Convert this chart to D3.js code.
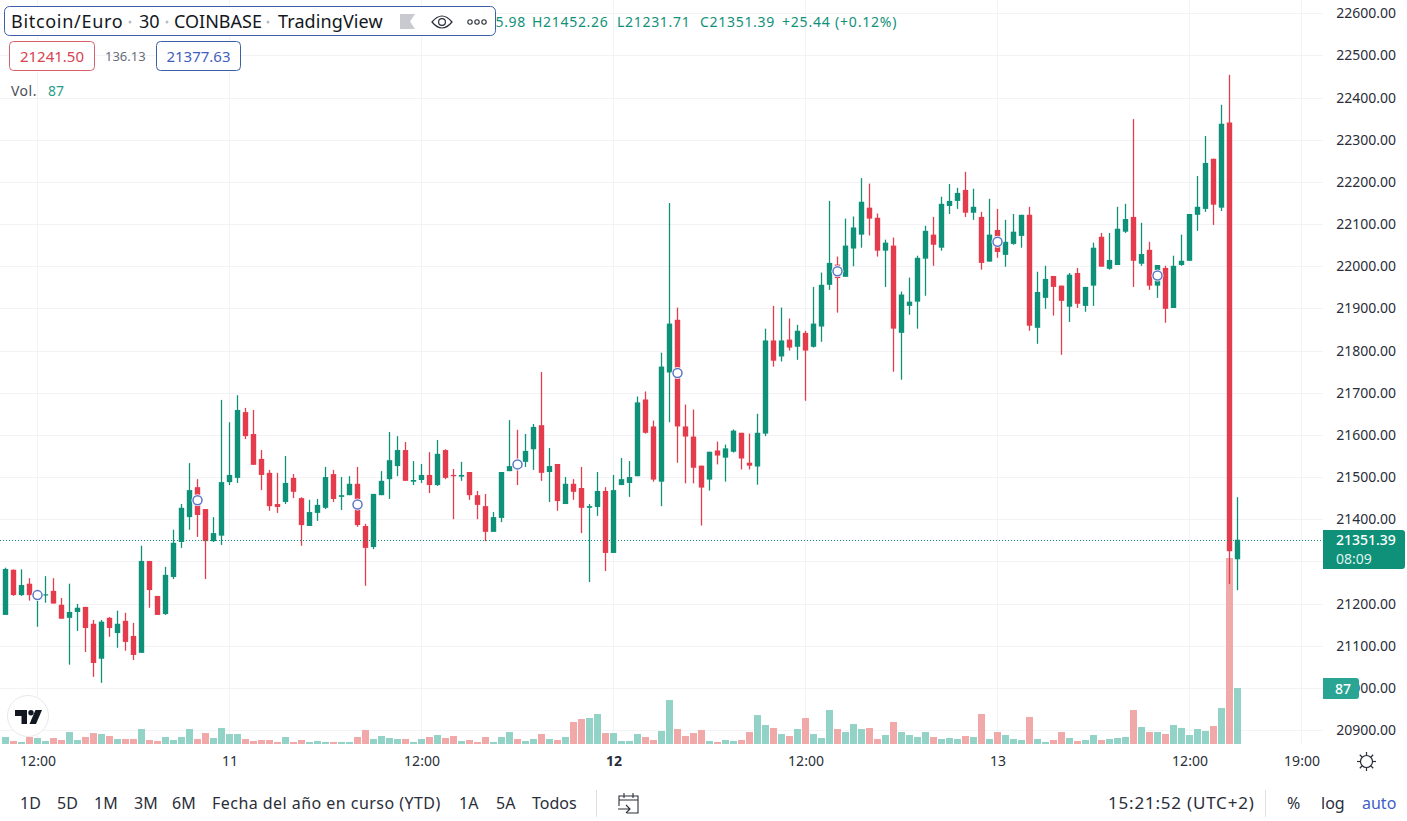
<!DOCTYPE html>
<html>
<head>
<meta charset="utf-8">
<title>Bitcoin/Euro</title>
<script src="https://cdnjs.cloudflare.com/ajax/libs/d3/7.8.5/d3.min.js"></script>
<style>
    html, body { margin: 0; padding: 0; background: #fff; overflow: hidden; }
    svg { display: block; font-family: "Noto Sans", sans-serif; }
</style>
</head>
<body>
<svg id="chart" width="1407" height="821"></svg>
<script>
// 30 minute candles
const opens = [
    21173, 21280, 21220, 21247, 21216, 21219, 21230, 21197, 21166, 21180,
    21192, 21152, 21069, 21166, 21130, 21159, 21123, 21083, 21301, 21218,
    21175, 21263, 21346, 21405, 21476, 21424, 21348, 21361, 21488, 21498,
    21654, 21602, 21543, 21510, 21436, 21441, 21498, 21450, 21384, 21415,
    21427, 21507, 21453, 21457, 21484, 21384, 21334, 21457, 21495, 21526,
    21564, 21489, 21493, 21505, 21481, 21564, 21505, 21501, 21512, 21457,
    21431, 21370, 21403, 21514, 21532, 21536, 21566, 21623, 21512, 21531,
    21436, 21484, 21474, 21427, 21429, 21467, 21320, 21481, 21486, 21502,
    21684, 21620, 21489, 21748, 21873, 21620, 21596, 21527, 21494, 21563,
    21546, 21560, 21605, 21534, 21525, 21603, 21824, 21786, 21826, 21809,
    21842, 21809, 21857, 21956, 22004, 21975, 22042, 22075, 22139, 22115,
    22037, 22049, 21842, 21906, 21916, 22018, 22075, 22044, 22143, 22155,
    22181, 22127, 22117, 22011, 22086, 22027, 22053, 22072, 22122, 21854,
    21925, 21977, 21954, 21904, 21984, 21906, 21954, 22070, 21994, 22003,
    22082, 22117, 22006, 22039, 21954, 21996, 21901, 22003, 22013, 22122,
    22136, 22255, 22139, 22341, 21305
];
const closes = [
    21282, 21220, 21244, 21220, 21224, 21222, 21200, 21164, 21180, 21190,
    21142, 21059, 21157, 21142, 21152, 21109, 21078, 21301, 21232, 21173,
    21268, 21344, 21427, 21469, 21410, 21348, 21367, 21488, 21505, 21659,
    21597, 21529, 21505, 21431, 21429, 21486, 21465, 21386, 21417, 21434,
    21500, 21448, 21457, 21484, 21386, 21332, 21460, 21491, 21540, 21564,
    21491, 21493, 21505, 21481, 21555, 21498, 21502, 21505, 21457, 21434,
    21370, 21405, 21512, 21526, 21526, 21562, 21619, 21510, 21526, 21443,
    21484, 21465, 21427, 21431, 21467, 21320, 21469, 21495, 21500, 21677,
    21605, 21494, 21762, 21864, 21620, 21596, 21522, 21475, 21560, 21551,
    21568, 21610, 21544, 21527, 21605, 21824, 21776, 21824, 21807, 21847,
    21800, 21864, 21956, 22008, 21972, 22049, 22092, 22153, 22113, 22037,
    22056, 21852, 21933, 21916, 22020, 22084, 22051, 22148, 22155, 22174,
    22127, 22141, 22008, 22075, 22034, 22058, 22082, 22122, 21859, 21939,
    21970, 21951, 21918, 21980, 21911, 21951, 22044, 21999, 22015, 22089,
    22112, 22013, 22029, 21954, 22003, 21899, 22001, 22013, 22124, 22141,
    22245, 22146, 22338, 21324, 21351.39
];
const highs = [
    21285, 21281, 21281, 21260, 21234, 21265, 21260, 21213, 21247, 21199,
    21192, 21161, 21161, 21168, 21183, 21178, 21154, 21337, 21301, 21218,
    21287, 21375, 21436, 21533, 21495, 21424, 21405, 21683, 21630, 21694,
    21664, 21659, 21564, 21517, 21510, 21550, 21507, 21452, 21446, 21448,
    21524, 21517, 21500, 21502, 21524, 21389, 21460, 21514, 21607, 21597,
    21583, 21538, 21531, 21559, 21588, 21566, 21519, 21536, 21512, 21467,
    21460, 21417, 21512, 21635, 21612, 21602, 21626, 21749, 21569, 21531,
    21500, 21495, 21524, 21436, 21512, 21476, 21505, 21545, 21538, 21691,
    21703, 21634, 21795, 22150, 21902, 21672, 21660, 21527, 21560, 21584,
    21577, 21613, 21605, 21603, 21650, 21852, 21906, 21902, 21876, 21861,
    21847, 21951, 21985, 22155, 22023, 22113, 22118, 22209, 22196, 22125,
    22063, 22068, 21940, 21973, 22025, 22096, 22117, 22165, 22195, 22186,
    22224, 22184, 22129, 22160, 22136, 22110, 22124, 22122, 22141, 21987,
    22001, 21977, 21954, 21984, 21996, 21951, 22056, 22079, 22079, 22141,
    22148, 22349, 22103, 22058, 22003, 22001, 22025, 22075, 22124, 22214,
    22309, 22255, 22383, 22454, 21452.26
];
const lows = [
    21173, 21218, 21218, 21207, 21145, 21202, 21200, 21164, 21055, 21135,
    21085, 21026, 21012, 21121, 21095, 21088, 21066, 21083, 21190, 21173,
    21173, 21258, 21332, 21375, 21358, 21258, 21346, 21339, 21481, 21486,
    21590, 21529, 21469, 21420, 21415, 21436, 21450, 21337, 21384, 21396,
    21424, 21441, 21422, 21457, 21382, 21242, 21329, 21457, 21448, 21502,
    21491, 21481, 21486, 21462, 21479, 21495, 21400, 21491, 21446, 21400,
    21348, 21370, 21393, 21514, 21481, 21524, 21517, 21491, 21441, 21420,
    21436, 21446, 21367, 21251, 21408, 21277, 21320, 21481, 21453, 21502,
    21603, 21489, 21431, 21630, 21534, 21485, 21485, 21385, 21468, 21530,
    21489, 21558, 21518, 21518, 21482, 21597, 21762, 21774, 21800, 21778,
    21681, 21807, 21821, 21944, 21890, 21975, 22000, 22044, 22073, 22023,
    21951, 21750, 21731, 21885, 21852, 21930, 22001, 22037, 22124, 22136,
    22117, 22110, 21992, 22011, 22020, 21999, 22051, 22044, 21847, 21816,
    21899, 21883, 21790, 21868, 21901, 21892, 21906, 21999, 21992, 22003,
    22079, 21951, 22001, 21944, 21925, 21866, 21901, 22001, 22013, 22084,
    22129, 22098, 22131, 21246, 21231.71
];
const volumes = [
    10.9, 4.7, 3.1, 10.9, 9.3, 4.7, 9.3, 6.2, 18.6, 6.2,
    10.9, 17, 15.5, 12.4, 7.8, 7.8, 7.8, 23.3, 6.2, 4.7,
    10.9, 6.2, 10.9, 23.3, 7.8, 17, 9.3, 24.9, 15.5, 15.5,
    7.8, 4.7, 6.2, 6.2, 3.1, 10.9, 3.1, 6.2, 3.1, 4.7,
    3.1, 3.1, 3.1, 3.1, 10.9, 21.8, 7.8, 12.4, 9.3, 7.8,
    7.8, 3.1, 7.8, 10.9, 14, 9.3, 12.4, 4.7, 6.2, 3.1,
    10.9, 3.1, 10.9, 18.6, 7.8, 4.7, 7.8, 15.5, 7.8, 6.2,
    10.9, 34.2, 38.8, 40.4, 46.6, 17, 17, 4.7, 4.7, 15.5,
    10.9, 6.2, 20.2, 68.3, 23.3, 12.4, 17, 21.8, 4.7, 3.1,
    6.2, 4.7, 6.2, 18.6, 45, 29.5, 24.9, 15.5, 12.4, 23.3,
    40.4, 15.5, 9.3, 52.8, 23.3, 18.6, 31, 23.3, 24.9, 7.8,
    14, 34.2, 18.6, 14, 10.9, 18.6, 10.9, 7.8, 9.3, 7.8,
    12.4, 10.9, 46.6, 7.8, 18.6, 14, 7.8, 6.2, 42, 7.8,
    3.1, 6.2, 18.6, 9.3, 4.7, 6.2, 14, 6.2, 7.8, 9.3,
    10.9, 52.8, 26.4, 18.6, 18.6, 15.5, 29.5, 24.9, 14, 23.3,
    20.2, 28, 56, 289, 87
];

// the round markers on the candles
const markerBars = [4, 24, 44, 64, 84, 104, 124, 144];
const markerPrices = [21220, 21445, 21435, 21530, 21747, 21988, 22058, 21978];

const priceTicks = d3.range(20900, 22601, 100);
const hiddenPriceLabel = 21300; // covered by the last price tag
const timeTicks = [4, 28, 52, 76, 100, 124, 148, 162];
const timeLabels = ['12:00', '11', '12:00', '12', '12:00', '13', '12:00', '19:00'];
const lastPrice = 21351.39;
const countdown = '08:09';
const lastVolume = 87;

const ohlcLabels = ['H21452.26', 'L21231.71', 'C21351.39'];
const ohlcStarts = [532, 617, 700];

const rangeButtons = ['1D', '5D', '1M', '3M', '6M', 'Fecha del año en curso (YTD)', '1A', '5A', 'Todos'];
const rangeStarts = [20, 57, 94, 134, 172, 212, 459, 496, 532];

const upColor = '#0f9179';
const downColor = '#e43c4c';
const upVolume = '#93d2c7';
const downVolume = '#f1a8a9';
const gridColor = '#f1f3f6';
const textColor = '#2a2e39';

const paneRight = 1323;
const paneBottom = 744;

const svg = d3.select('#chart');
const x = d3.scaleLinear().domain([0, 154]).range([5.5, 1237.5]);
const y = d3.scaleLinear().domain([20900, 22600]).range([730, 13.3]);
const volY = d3.scaleLinear().domain([0, lastVolume]).range([paneBottom, 688]);

const bars = opens.map((open, i) => ({
    i: i, open: open, close: closes[i], high: highs[i], low: lows[i], volume: volumes[i],
    up: closes[i] >= open
}));

function drawGrid() {
    const grid = svg.append('g').attr('class', 'grid')
        .attr('stroke', gridColor).attr('stroke-width', 1);
    grid.selectAll('.hline').data(priceTicks).enter().append('line')
        .attr('x1', 0).attr('x2', paneRight)
        .attr('y1', d => Math.round(y(d)) + 0.5).attr('y2', d => Math.round(y(d)) + 0.5);
    grid.selectAll('.vline').data(timeTicks).enter().append('line')
        .attr('x1', d => Math.floor(x(d)) + 0.5).attr('x2', d => Math.floor(x(d)) + 0.5)
        .attr('y1', 0).attr('y2', paneBottom);
}

function drawVolume() {
    svg.append('g').selectAll('rect').data(bars).enter().append('rect')
        .attr('x', d => x(d.i) - 3.5)
        .attr('width', 7)
        .attr('y', d => volY(d.volume))
        .attr('height', d => paneBottom - volY(d.volume))
        .attr('fill', d => d.up ? upVolume : downVolume);
}

function drawCandles() {
    const candles = svg.append('g').selectAll('g').data(bars).enter().append('g')
        .attr('fill', d => d.up ? upColor : downColor);
    candles.append('rect')
        .attr('x', d => x(d.i) - 0.65)
        .attr('width', 1.3)
        .attr('y', d => y(d.high))
        .attr('height', d => y(d.low) - y(d.high));
    candles.append('rect')
        .attr('x', d => x(d.i) - 2.7)
        .attr('width', 5.4)
        .attr('y', d => y(Math.max(d.open, d.close)))
        .attr('height', d => Math.max(1, Math.abs(y(d.open) - y(d.close))));
}

function drawLastPriceLine() {
    svg.append('line')
        .attr('x1', 0).attr('x2', paneRight)
        .attr('y1', Math.round(y(lastPrice)) + 0.5).attr('y2', Math.round(y(lastPrice)) + 0.5)
        .attr('stroke', upColor).attr('stroke-width', 1).attr('stroke-dasharray', '1 2');
}

function drawMarkers() {
    const markers = svg.append('g').selectAll('g').data(markerBars).enter().append('g')
        .attr('transform', (d, i) => `translate(${x(d)},${y(markerPrices[i])})`);
    markers.append('circle').attr('r', 6).attr('fill', '#fff');
    markers.append('circle').attr('r', 4.5).attr('fill', '#fff')
        .attr('stroke', '#5b76c6').attr('stroke-width', 1.5);
}

function drawAxes() {
    const priceAxis = d3.axisRight(y)
        .tickValues(priceTicks.filter(d => d !== hiddenPriceLabel))
        .tickSize(0).tickFormat(d3.format('.2f'));
    const gy = svg.append('g').attr('transform', `translate(${paneRight},0)`).call(priceAxis);
    gy.select('.domain').remove();
    gy.selectAll('text').attr('x', 73).attr('text-anchor', 'end')
        .attr('font-family', '"Noto Sans", sans-serif').attr('font-size', 14).attr('fill', textColor);

    const timeAxis = d3.axisBottom(x).tickValues(timeTicks).tickSize(0)
        .tickFormat(d => timeLabels[timeTicks.indexOf(d)]);
    const gx = svg.append('g').attr('transform', `translate(0,${paneBottom})`).call(timeAxis);
    gx.select('.domain').remove();
    gx.selectAll('text').attr('y', 12)
        .attr('font-family', '"Noto Sans", sans-serif').attr('font-size', 14).attr('fill', textColor)
        .attr('font-weight', d => d === 76 ? 700 : 400);
}

function drawPriceTags() {
    const tag = svg.append('g');
    tag.append('path')
        .attr('d', `M${paneRight} 530 H1402 a3 3 0 0 1 3 3 V566 a3 3 0 0 1 -3 3 H${paneRight} Z`)
        .attr('fill', upColor);
    tag.append('text').attr('x', 1336).attr('y', 545)
        .attr('font-size', 14).attr('font-weight', 500).attr('fill', '#fff').text(d3.format('.2f')(lastPrice));
    tag.append('text').attr('x', 1336).attr('y', 564)
        .attr('font-size', 14).attr('fill', '#dff2ee').text(countdown);

    const vol = svg.append('g');
    vol.append('path')
        .attr('d', `M${paneRight} 678 H1356 a3 3 0 0 1 3 3 V696 a3 3 0 0 1 -3 3 H${paneRight} Z`)
        .attr('fill', '#2aa594');
    vol.append('text').attr('x', 1343).attr('y', 694).attr('text-anchor', 'middle')
        .attr('font-size', 14).attr('font-weight', 500).attr('fill', '#fff').text(lastVolume);
}

function drawLegend() {
    // ohlc line sits behind the title box
    svg.append('text').attr('x', 526).attr('y', 27).attr('text-anchor', 'end')
        .attr('font-size', 14).attr('letter-spacing', 0.7).attr('fill', upColor).text('O21325.98');
    svg.selectAll('.ohlc').data(ohlcLabels).enter().append('text')
        .attr('x', (d, i) => ohlcStarts[i]).attr('y', 27)
        .attr('font-size', 14).attr('letter-spacing', 0.7).attr('fill', upColor).text(d => d);
    svg.append('text').attr('x', 782).attr('y', 27)
        .attr('font-size', 14).attr('letter-spacing', 0.8).attr('fill', upColor).text('+25.44 (+0.12%)');

    svg.append('rect').attr('x', 4.5).attr('y', 6.5).attr('width', 491).attr('height', 29).attr('rx', 5)
        .attr('fill', '#fff').attr('stroke', '#3e5ea8');
    svg.append('text').attr('x', 11).attr('y', 28).attr('font-size', 18).attr('letter-spacing', 0.7)
        .attr('fill', '#131722').text('Bitcoin/Euro');
    svg.append('text').attr('x', 139).attr('y', 28).attr('font-size', 18).attr('fill', '#131722').text('30');
    svg.append('text').attr('x', 174).attr('y', 28).attr('font-size', 18).attr('fill', '#131722').text('COINBASE');
    svg.append('text').attr('x', 278).attr('y', 28).attr('font-size', 18).attr('letter-spacing', 0.1)
        .attr('fill', '#131722').text('TradingView');
    svg.selectAll('.dot').data([130, 167, 268]).enter().append('circle')
        .attr('cx', d => d).attr('cy', 22).attr('r', 1.5).attr('fill', '#b8bcc6');

    // flag, eye, dots
    svg.append('path').attr('d', 'M400 14 H415 L410 21.5 L415 29 H400 Z').attr('fill', '#c8cad0');
    const eye = svg.append('g').attr('fill', 'none').attr('stroke', '#2a2e39').attr('stroke-width', 1.2);
    eye.append('path').attr('d', 'M432 22 Q442 10 452 22 Q442 34 432 22 Z');
    eye.append('circle').attr('cx', 442).attr('cy', 22).attr('r', 3.4);
    svg.selectAll('.more').data([470, 477, 484]).enter().append('circle')
        .attr('cx', d => d).attr('cy', 22).attr('r', 2.2)
        .attr('fill', 'none').attr('stroke', '#2a2e39').attr('stroke-width', 1.1);

    // pills under the title
    svg.append('rect').attr('x', 9.5).attr('y', 41.5).attr('width', 85).attr('height', 29).attr('rx', 4)
        .attr('fill', '#fff').attr('stroke', '#d9606b');
    svg.append('text').attr('x', 52).attr('y', 62).attr('text-anchor', 'middle')
        .attr('font-size', 15).attr('fill', '#d8434f').text('21241.50');
    svg.append('text').attr('x', 105).attr('y', 61).attr('font-size', 13).attr('fill', '#6a6d78').text('136.13');
    svg.append('rect').attr('x', 156.5).attr('y', 41.5).attr('width', 84).attr('height', 29).attr('rx', 4)
        .attr('fill', '#fff').attr('stroke', '#3e5ea8');
    svg.append('text').attr('x', 198.5).attr('y', 62).attr('text-anchor', 'middle')
        .attr('font-size', 15).attr('fill', '#3f5fbd').text('21377.63');

    svg.append('text').attr('x', 11).attr('y', 96).attr('font-size', 14).attr('letter-spacing', 0.5)
        .attr('fill', '#4a4e59').text('Vol.');
    svg.append('text').attr('x', 48).attr('y', 96).attr('font-size', 14).attr('fill', '#2a9d8a').text(lastVolume);
}

function drawLogo() {
    svg.append('circle').attr('cx', 28).attr('cy', 716).attr('r', 20.5)
        .attr('fill', '#fff').attr('stroke', '#e8e9ec');
    svg.append('path').attr('d', 'M15 710 H27 V724 H21.5 V716 H15 Z').attr('fill', '#131722');
    svg.append('circle').attr('cx', 31).attr('cy', 712.7).attr('r', 2.7).attr('fill', '#131722');
    svg.append('path').attr('d', 'M35.5 710 H42 L36 724 H29.5 Z').attr('fill', '#131722');
}

function drawToolbar() {
    const toolbarY = 809;
    svg.selectAll('.range').data(rangeButtons).enter().append('text')
        .attr('x', (d, i) => rangeStarts[i]).attr('y', toolbarY)
        .attr('font-size', 16).attr('fill', textColor)
        .attr('letter-spacing', d => d.length > 10 ? 0.46 : 0)
        .text(d => d);

    svg.append('line').attr('x1', 596.5).attr('x2', 596.5).attr('y1', 790).attr('y2', 817).attr('stroke', '#dcdfe6');
    const cal = svg.append('g').attr('fill', 'none').attr('stroke', '#2a2e39').attr('stroke-width', 1.1);
    cal.append('path').attr('d', 'M619 806 V796 H638 V813 H627 M619 800 H638 M624 793 V798 M633 793 V798');
    cal.append('path').attr('d', 'M618 809 H630 M626 805 L630 809 L626 813');

    svg.append('text').attr('x', 1108).attr('y', toolbarY).attr('font-size', 17).attr('letter-spacing', 0.8)
        .attr('fill', textColor).text('15:21:52 (UTC+2)');
    svg.append('line').attr('x1', 1265.5).attr('x2', 1265.5).attr('y1', 790).attr('y2', 817).attr('stroke', '#dcdfe6');
    svg.append('text').attr('x', 1287).attr('y', toolbarY).attr('font-size', 16).attr('fill', textColor).text('%');
    svg.append('text').attr('x', 1321).attr('y', toolbarY).attr('font-size', 16).attr('fill', textColor).text('log');
    svg.append('text').attr('x', 1362).attr('y', toolbarY).attr('font-size', 16).attr('fill', '#3d5fc9').text('auto');

    // settings icon on the time scale
    const gear = svg.append('g').attr('transform', 'translate(1366.5,761.5)')
        .attr('fill', 'none').attr('stroke', '#2a2e39').attr('stroke-width', 1.2);
    gear.append('circle').attr('r', 6);
    gear.selectAll('line').data(d3.range(0, 360, 45)).enter().append('line')
        .attr('y1', -6).attr('y2', -9.5).attr('transform', d => `rotate(${d})`);
}

drawGrid();
drawVolume();
drawCandles();
drawLastPriceLine();
drawMarkers();
drawAxes();
drawLegend();
drawLogo();
drawPriceTags();
drawToolbar();
</script>
</body>
</html>
